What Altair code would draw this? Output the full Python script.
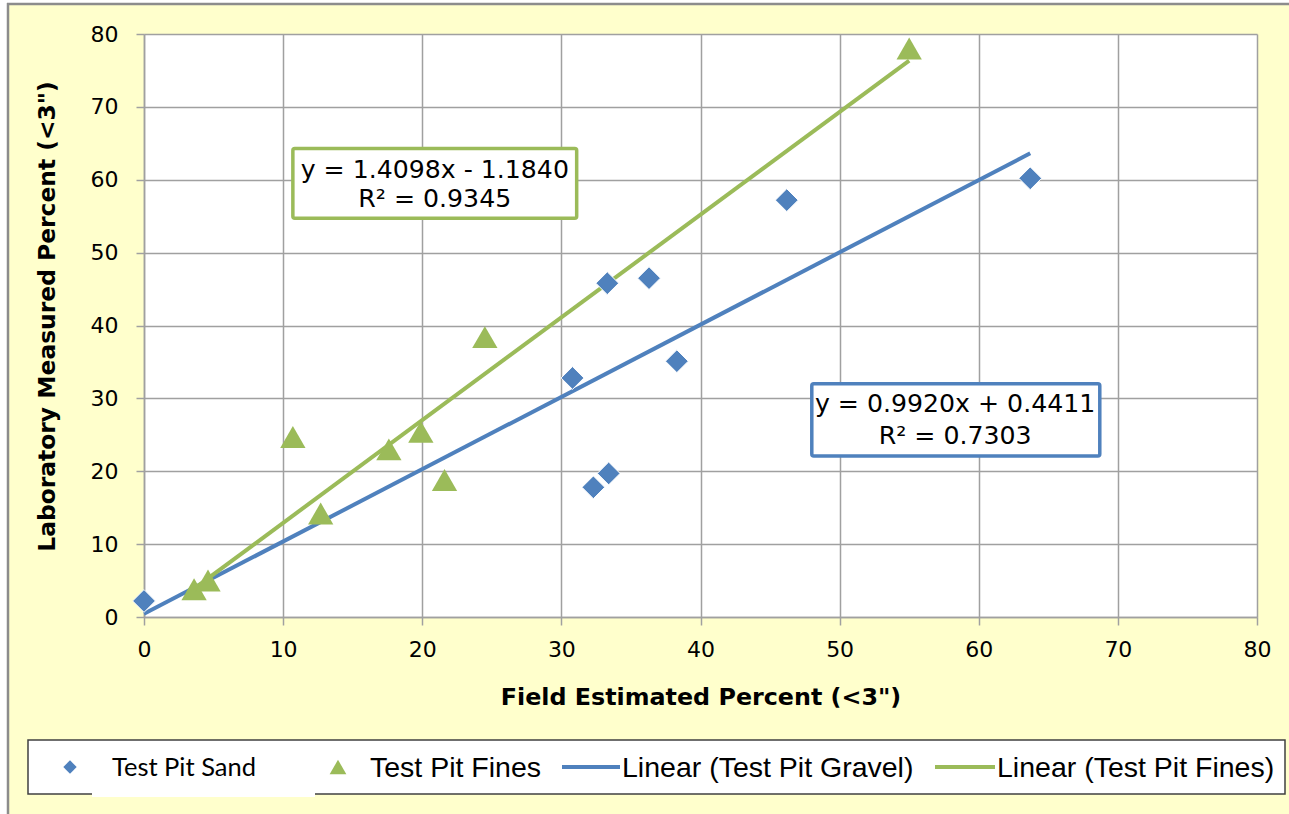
import altair as alt
import pandas as pd

# ---------------- data ----------------
sand_x = [0.0, 30.8, 33.3, 36.3, 38.3, 32.3, 33.4, 46.2, 63.7]
sand_y = [2.2, 32.8, 45.8, 46.5, 35.1, 17.8, 19.7, 57.2, 60.2]

fines_x = [3.6, 4.6, 10.7, 12.7, 17.6, 19.9, 21.6, 24.5, 55.0]
fines_y = [3.8, 5.0, 24.7, 14.2, 23.0, 25.4, 18.8, 38.4, 78.0]

# trendlines as reported by the chart (slope, intercept, x-range)
gravel_fit = {"slope": 0.9920, "intercept": 0.4411, "x": [0.0, 63.7]}
fines_fit = {"slope": 1.4098, "intercept": -1.1840, "x": [3.6, 55.0]}

eq_fines = ["y = 1.4098x - 1.1840", "R\u00b2 = 0.9345"]
eq_gravel = ["y = 0.9920x + 0.4411", "R\u00b2 = 0.7303"]

legend_labels = ["Test Pit Sand", "Test Pit Fines",
                 "Linear (Test Pit Gravel)", "Linear (Test Pit Fines)"]

x_ticks = list(range(0, 81, 10))
y_ticks = list(range(0, 81, 10))

# ---------------- styling ----------------
BLUE = "#4F81BD"
GREEN = "#9BBB59"
GRID = "#A0A0A0"
FONT = "DejaVu Sans"
LEGFONT = "Liberation Sans"
W, H = 1113, 583

sand_df = pd.DataFrame({"x": sand_x, "y": sand_y})
fines_df = pd.DataFrame({"x": fines_x, "y": fines_y})


def fit_df(fit):
    xs = fit["x"]
    return pd.DataFrame({"x": xs, "y": [fit["slope"] * v + fit["intercept"] for v in xs]})


gravel_line_df = fit_df(gravel_fit)
fines_line_df = fit_df(fines_fit)

xs = alt.Scale(domain=[0, 80], nice=False, zero=False)
ys = alt.Scale(domain=[0, 80], nice=False, zero=False)

x_axis = alt.Axis(
    values=x_ticks, title='Field Estimated Percent (<3")',
    labelFont=FONT, labelFontSize=22, labelColor="black", labelPadding=14,
    labelFlush=False,
    tickSize=8, tickColor=GRID, tickWidth=1.5,
    domainColor=GRID, domainWidth=1.5,
    gridColor=GRID, gridWidth=1.5,
    titleFont=FONT, titleFontWeight="bold", titleFontSize=23.8, titleColor="black",
    titleX=W / 2, titleY=80, titleAlign="center", titleBaseline="middle",
)
y_axis = alt.Axis(
    values=y_ticks, title='Laboratory Measured Percent (<3")',
    labelFont=FONT, labelFontSize=22, labelColor="black", labelPadding=18,
    labelFlush=False,
    tickSize=8, tickColor=GRID, tickWidth=1.5,
    domainColor=GRID, domainWidth=1.5,
    gridColor=GRID, gridWidth=1.5,
    titleFont=FONT, titleFontWeight="bold", titleFontSize=23.4, titleColor="black",
    titleAngle=270, titleX=-97, titleY=282, titleAlign="center", titleBaseline="middle",
)

one = pd.DataFrame({"k": [0]})

# ---------------- frame decorations (outside plot area) ----------------
white_left = alt.Chart(one).mark_rect(color="white").encode(
    x=alt.value(-150), x2=alt.value(-136), y=alt.value(-40), y2=alt.value(800))
white_top = alt.Chart(one).mark_rect(color="white").encode(
    x=alt.value(-150), x2=alt.value(1160), y=alt.value(-40), y2=alt.value(-30))
frame_left = alt.Chart(one).mark_rule(color="#8C8C8C", strokeWidth=2.5).encode(
    x=alt.value(-136), y=alt.value(-31), y2=alt.value(800))
frame_top = alt.Chart(one).mark_rule(color="#8C8C8C", strokeWidth=2.5).encode(
    x=alt.value(-137), x2=alt.value(1160), y=alt.value(-30))

# ---------------- data layers ----------------
gravel_line = alt.Chart(gravel_line_df).mark_line(color=BLUE, strokeWidth=4).encode(
    x=alt.X("x:Q", scale=xs, axis=x_axis), y=alt.Y("y:Q", scale=ys, axis=y_axis))
fines_line = alt.Chart(fines_line_df).mark_line(color=GREEN, strokeWidth=4).encode(
    x=alt.X("x:Q", scale=xs), y=alt.Y("y:Q", scale=ys))

sand_pts = alt.Chart(sand_df).mark_point(
    shape="diamond", filled=True, size=520, color=BLUE, opacity=1,
    stroke="white", strokeWidth=1).encode(
    x=alt.X("x:Q", scale=xs), y=alt.Y("y:Q", scale=ys))
fines_pts = alt.Chart(fines_df).mark_point(
    shape="triangle-up", filled=True, size=640, color=GREEN, opacity=1).encode(
    x=alt.X("x:Q", scale=xs), y=alt.Y("y:Q", scale=ys))

# ---------------- equation boxes (positioned in data space) ----------------
fines_box_df = pd.DataFrame({"x": [10.7], "x2": [31.1], "y": [54.7], "y2": [64.3]})
gravel_box_df = pd.DataFrame({"x": [48.0], "x2": [68.7], "y": [22.1], "y2": [32.0]})
fines_eq_df = pd.DataFrame({"x": [20.9, 20.9], "y": [61.3, 57.4], "t": eq_fines})
gravel_eq_df = pd.DataFrame({"x": [58.3, 58.3], "y": [29.2, 24.9], "t": eq_gravel})


def box(df, col):
    return alt.Chart(df).mark_rect(fill="white", stroke=col, strokeWidth=3.5, cornerRadius=2).encode(
        x=alt.X("x:Q", scale=xs), x2="x2:Q", y=alt.Y("y:Q", scale=ys), y2="y2:Q")


def eq_text(df):
    return alt.Chart(df).mark_text(font=FONT, fontSize=25.2, color="black",
                                   align="center", baseline="middle").encode(
        x=alt.X("x:Q", scale=xs), y=alt.Y("y:Q", scale=ys), text="t:N")


# ---------------- legend (drawn below the plot) ----------------
leg_box = alt.Chart(one).mark_rect(fill="white", stroke="#404040", strokeWidth=1.5).encode(
    x=alt.value(-116), x2=alt.value(1141), y=alt.value(706), y2=alt.value(760))
leg_patch = alt.Chart(one).mark_rect(fill="white").encode(
    x=alt.value(-52), x2=alt.value(171), y=alt.value(716), y2=alt.value(763))
leg_sym_sand = alt.Chart(one).mark_point(shape="diamond", filled=True, size=180,
                                         color=BLUE, opacity=1).encode(
    x=alt.value(-74), y=alt.value(733))
leg_sym_fines = alt.Chart(one).mark_point(shape="triangle-up", filled=True, size=280,
                                          color=GREEN, opacity=1).encode(
    x=alt.value(194), y=alt.value(733))
leg_line_gravel = alt.Chart(one).mark_rule(color=BLUE, strokeWidth=4).encode(
    x=alt.value(418), x2=alt.value(476), y=alt.value(733))
leg_line_fines = alt.Chart(one).mark_rule(color=GREEN, strokeWidth=4).encode(
    x=alt.value(791), x2=alt.value(851), y=alt.value(733))


def leg_text(label, xpos, font, size):
    return alt.Chart(one).mark_text(text=label, font=font, fontSize=size, color="black",
                                    align="left", baseline="middle").encode(
        x=alt.value(xpos), y=alt.value(734))


leg_t1 = leg_text(legend_labels[0], -32, "Lato", 25.5)
leg_t2 = leg_text(legend_labels[1], 226, LEGFONT, 28.5)
leg_t3 = leg_text(legend_labels[2], 478, LEGFONT, 28.5)
leg_t4 = leg_text(legend_labels[3], 853, LEGFONT, 28.5)

chart = alt.layer(
    gravel_line, white_left, white_top, frame_left, frame_top,
    fines_line, sand_pts, fines_pts,
    box(fines_box_df, GREEN), eq_text(fines_eq_df),
    box(gravel_box_df, BLUE), eq_text(gravel_eq_df),
    leg_box, leg_patch, leg_sym_sand, leg_sym_fines, leg_line_gravel, leg_line_fines,
    leg_t1, leg_t2, leg_t3, leg_t4,
).properties(
    width=W, height=H,
    autosize=alt.AutoSizeParams(type="none"),
    padding={"left": 144, "top": 34, "right": 32, "bottom": 197},
    background="#FFFFCC",
).configure_view(fill="white", stroke=None)

chart.save("out.html", embed_options={"renderer": "svg", "actions": False})
